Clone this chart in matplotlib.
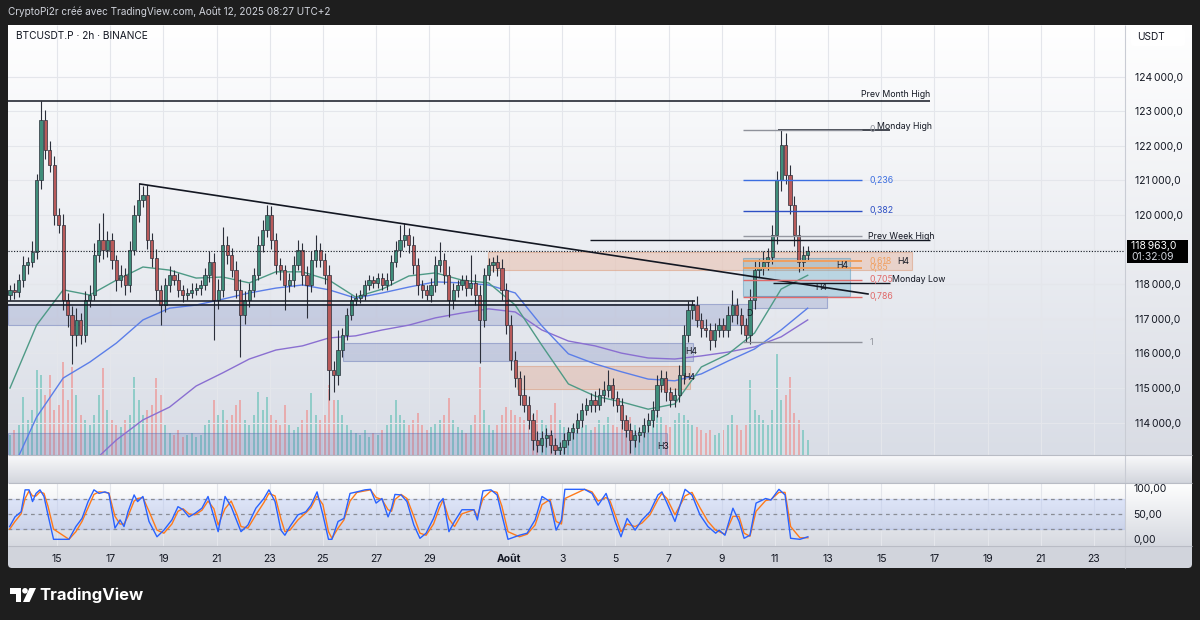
import numpy as np
import matplotlib
matplotlib.use("Agg")
import matplotlib.pyplot as plt
from matplotlib.patches import Rectangle, FancyBboxPatch, Polygon, Circle
from matplotlib.colors import LinearSegmentedColormap

plt.rcParams['font.family'] = ['Inter', 'DejaVu Sans']

# ---------------- DATA ----------------
candle_start_day = 13.232          # day-of-July of first 4h candle (Aug 1 = 32)
bar_len = 4 / 24.0
first_open = 117700
closes = [
    117840, 117780, 118120, 118560, 118650, 118940, 121000, 122750, 121880, 121450,
    120000, 119720, 117550, 117110, 116530, 116970, 116530, 117550, 117690, 118850,
    119280, 118990, 119280, 118700, 118120, 118270, 117980, 118990, 120000, 120440,
    120580, 119280, 118760, 117840, 117400, 117980, 118270, 118120, 117840, 117690,
    117750, 117840, 117900, 117980, 118270, 118650, 117550, 117840, 119140, 118850,
    118410, 117840, 117110, 117550, 117840, 118270, 119140, 119570, 120000, 119280,
    118560, 118410, 117980, 118120, 118560, 118990, 118270, 117980, 118700, 118990,
    118700, 118270, 115520, 115380, 116100, 116530, 117110, 117550, 117600, 117690,
    117980, 118120, 118040, 118180, 117980, 118120, 118650, 118990, 119280, 119420,
    119140, 118560, 117980, 117840, 117690, 117980, 118560, 118700, 118270, 117550,
    117840, 117980, 118120, 117900, 118040, 117690, 116970, 118270, 118560, 118650,
    118480, 117840, 116820, 115810, 115290, 114800, 114510, 114080, 113500, 113360,
    113560, 113640, 113360, 113210, 113300, 113500, 113730, 113850, 114080, 114370,
    114510, 114660, 114510, 114800, 114950, 115090, 114720, 114510, 114080, 113790,
    113500, 113640, 113730, 113930, 114080, 114370, 115090, 115290, 114890, 114660,
    114800, 115380, 116530, 117260, 117400, 116970, 116740, 116680, 116390, 116680,
    116820, 116680, 117110, 117400, 117110, 116820, 116530, 117550, 118410, 118470,
    118650, 118790, 119420, 121010, 122030, 121160, 120290, 119420, 118650, 118850,
    118963]
upper_wick = [
    150, 200, 180, 250, 150, 300, 200, 550, 300, 250,
    250, 200, 300, 200, 250, 350, 200, 250, 300, 350,
    490, 770, 250, 200, 150, 300, 200, 250, 300, 480,
    250, 300, 200, 250, 150, 200, 250, 150, 200, 150,
    150, 200, 150, 150, 200, 300, 250, 300, 510, 250,
    200, 250, 300, 250, 200, 200, 250, 300, 290, 250,
    200, 200, 150, 200, 250, 300, 200, 250, 250, 430,
    200, 200, 300, 250, 580, 200, 200, 150, 150, 150,
    150, 150, 120, 150, 150, 200, 200, 250, 430, 350,
    200, 250, 200, 150, 150, 200, 250, 520, 200, 250,
    200, 150, 150, 150, 810, 250, 300, 200, 200, 140,
    200, 250, 200, 300, 250, 200, 580, 250, 200, 250,
    200, 200, 150, 200, 150, 200, 150, 150, 200, 200,
    200, 200, 250, 200, 250, 430, 200, 200, 200, 150,
    200, 150, 150, 200, 200, 250, 300, 230, 200, 150,
    200, 300, 300, 250, 150, 250, 200, 250, 200, 200,
    200, 200, 250, 440, 200, 200, 200, 300, 300, 250,
    300, 250, 300, 250, 430, 350, 300, 250, 300, 250,
    150]
lower_wick = [
    150, 200, 150, 200, 250, 150, 200, 250, 250, 200,
    300, 250, 300, 350, 830, 300, 250, 200, 200, 150,
    200, 250, 200, 250, 300, 200, 300, 200, 150, 200,
    200, 250, 250, 300, 580, 200, 200, 150, 200, 200,
    150, 150, 150, 200, 150, 200, 1160, 250, 200, 250,
    200, 250, 1210, 250, 200, 200, 150, 200, 200, 250,
    250, 300, 720, 200, 200, 150, 300, 950, 200, 200,
    200, 250, 860, 500, 300, 200, 150, 150, 150, 150,
    150, 150, 150, 150, 150, 150, 150, 150, 200, 200,
    250, 250, 300, 250, 140, 200, 200, 200, 250, 490,
    250, 200, 150, 250, 200, 300, 1250, 200, 150, 200,
    250, 300, 250, 300, 250, 300, 200, 250, 300, 200,
    200, 250, 250, 200, 250, 200, 150, 200, 150, 200,
    150, 200, 200, 150, 200, 200, 250, 200, 250, 200,
    380, 200, 200, 150, 200, 200, 200, 200, 250, 200,
    200, 200, 250, 200, 250, 200, 250, 200, 300, 200,
    200, 200, 200, 200, 250, 250, 200, 250, 250, 200,
    200, 250, 200, 250, 300, 250, 250, 300, 300, 250,
    150]
volume = [
    20, 25, 30, 58, 35, 45, 85, 80, 60, 80,
    45, 50, 93, 55, 88, 60, 40, 35, 30, 40,
    60, 87, 45, 35, 30, 28, 35, 40, 78, 55,
    40, 45, 50, 77, 60, 30, 22, 20, 25, 18,
    20, 22, 18, 20, 30, 35, 55, 40, 45, 35,
    40, 50, 55, 35, 30, 40, 63, 45, 58, 40,
    35, 30, 50, 30, 25, 28, 35, 45, 62, 40,
    35, 40, 70, 55, 55, 40, 30, 25, 22, 20,
    25, 18, 22, 20, 25, 30, 40, 55, 40, 35,
    30, 35, 42, 30, 25, 28, 32, 35, 40, 57,
    35, 28, 25, 22, 30, 40, 88, 45, 30, 25,
    30, 40, 48, 45, 40, 38, 35, 30, 40, 45,
    35, 30, 40, 52, 35, 28, 25, 30, 25, 28,
    30, 25, 28, 35, 30, 38, 30, 28, 35, 40,
    38, 30, 25, 28, 30, 35, 40, 38, 30, 28,
    35, 42, 40, 35, 30, 28, 25, 22, 25, 20,
    22, 25, 30, 40, 30, 25, 30, 75, 45, 40,
    35, 30, 45, 102, 55, 60, 78, 42, 35, 25,
    15]

# moving averages sampled once a day (day = candle_start_day + k)
ma_fast = [115000, 116820, 117840, 117690, 118120, 118500, 118410, 118180, 118210, 118040,
           118360, 118360, 118120, 117630, 117860, 118240, 118330, 118120, 118040, 117400,
           116240, 115120, 114770, 114600, 114390, 114540, 115610, 115980, 116590, 117860,
           118260]
ma_mid = [112490, 114160, 115290, 115750, 116300, 116970, 117310, 117400, 117570, 117750,
          117890, 117980, 117840, 117600, 117750, 117920, 118070, 118040, 117980, 117750,
          116800, 115990, 115700, 115470, 115260, 115210, 115410, 115780, 116130, 116680,
          117310]
ma_slow = [111190, 111710, 112200, 112780, 113500, 114080, 114450, 115060, 115440, 115840,
           116100, 116220, 116450, 116510, 116680, 116820, 117030, 117170, 117290, 117200,
           116680, 116360, 116220, 116010, 115870, 115840, 115930, 116040, 116190, 116480,
           116970]

stoch_days = [13.22, 13.42, 13.65, 13.80, 13.95, 14.08, 14.21, 14.36, 14.51, 14.66,
              14.87, 15.45, 15.71, 15.94, 16.17, 16.39, 16.58, 16.80, 16.95, 17.18,
              17.37, 17.52, 17.67, 17.90, 18.03, 18.23, 18.46, 18.76, 19.02, 19.32,
              19.55, 19.74, 19.96, 20.19, 20.45, 20.68, 20.90, 21.06, 21.32, 21.55,
              21.77, 21.92, 22.18, 22.48, 22.78, 22.97, 23.20, 23.42, 23.57, 23.76,
              24.06, 24.36, 24.55, 24.78, 25.00, 25.21, 25.34, 25.57, 25.79, 26.02,
              26.28, 26.58, 26.79, 27.00, 27.22, 27.45, 27.58, 27.71, 27.94, 28.16,
              28.42, 28.65, 28.88, 29.16, 29.37, 29.52, 29.74, 29.95, 30.23, 30.68,
              30.81, 31.02, 31.32, 31.55, 31.73, 31.96, 32.39, 32.68, 32.98, 33.24,
              33.54, 33.77, 33.97, 34.10, 34.84, 35.12, 35.35, 35.65, 35.80, 35.99,
              36.21, 36.44, 36.74, 37.00, 37.30, 37.60, 37.75, 37.94, 38.24, 38.62,
              38.88, 39.18, 39.48, 39.77, 39.90, 40.12, 40.42, 40.65, 40.84, 41.06,
              41.29, 41.65, 41.85, 42.15, 42.38, 42.59, 42.94, 43.24]
stoch_k = [25, 44, 54, 97, 97, 74, 90, 97, 84, 48,
           0, 0, 25, 41, 74, 97, 90, 93, 90, 22,
           38, 25, 54, 87, 74, 84, 35, 5, 18, 38,
           64, 58, 44, 51, 61, 84, 44, 15, 84, 64,
           35, 15, 28, 61, 80, 97, 74, 18, 8, 25,
           48, 54, 67, 93, 48, 0, 0, 35, 41, 90,
           93, 97, 98, 71, 80, 44, 61, 88, 87, 74,
           28, 2, 12, 41, 71, 80, 15, 35, 58, 58,
           38, 95, 97, 87, 48, 0, 8, 12, 38, 84,
           74, 18, 38, 98, 98, 90, 67, 90, 67, 35,
           5, 41, 18, 38, 54, 87, 93, 71, 35, 98,
           87, 48, 25, 12, 18, 8, 61, 35, 2, 8,
           71, 80, 77, 98, 87, 2, 0, 5]
stoch_d = [20, 35, 50, 80, 95, 85, 85, 93, 90, 65,
           20, 0, 15, 35, 62, 88, 93, 92, 91, 45,
           30, 30, 45, 75, 80, 82, 55, 18, 12, 30,
           55, 60, 50, 48, 57, 75, 60, 28, 60, 75,
           48, 25, 22, 48, 72, 90, 85, 40, 15, 18,
           38, 52, 62, 85, 68, 15, 2, 22, 38, 75,
           92, 95, 97, 82, 78, 58, 55, 78, 88, 80,
           45, 12, 8, 30, 60, 77, 40, 25, 50, 58,
           45, 80, 95, 92, 65, 15, 5, 10, 28, 68,
           78, 35, 30, 80, 98, 93, 75, 82, 75, 48,
           15, 30, 25, 32, 48, 78, 90, 80, 48, 85,
           92, 62, 35, 18, 15, 10, 45, 45, 12, 6,
           55, 76, 78, 92, 92, 25, 3, 3]

date_tick_days = [15, 17, 19, 21, 23, 25, 27, 29, 32, 34, 36, 38, 40, 42, 44, 46, 48, 50, 52, 54]
date_tick_labels = ['15', '17', '19', '21', '23', '25', '27', '29', 'Août', '3', '5', '7',
                    '9', '11', '13', '15', '17', '19', '21', '23']
price_ticks = [114000, 115000, 116000, 117000, 118000, 120000, 121000, 122000, 123000, 124000]
price_grid = [114000, 115000, 116000, 117000, 118000, 119000, 120000, 121000, 122000, 123000, 124000]

current_price = 118963
countdown = "01:32:09"

# drawings
prev_month_high = 123300
prev_month_span = (13.157, 47.83)
monday_high = 122460
monday_high_span = (42.12, 46.33)
prev_week_high = 119280
prev_week_span = (35.05, 47.83)
monday_low = 118030
monday_low_span = (41.93, 46.33)
support_levels = [117520, 117400]
support_span = (13.157, 38.99)
fib_high, fib_low = 122460, 116330
fib_span = (40.80, 45.27)
fib_ratios = [0, 0.236, 0.382, 0.5, 0.618, 0.65, 0.705, 0.786, 1]
fib_colors = ['#8f929b', '#3b6ee0', '#2d4fc4', '#9598a1', '#f0a060', '#f0a060',
              '#e06a6a', '#e06a6a', '#8f929b']
fib_texts = ['0', '0,236', '0,382', '0,5', '0,618', '0,65', '0,705', '0,786', '1']
trend_days = [18.12, 45.50]
trend_prices = [120899, 117720]
blue_zones = [(13.157, 41.06, 116820, 117430), (41.14, 43.96, 117320, 117670),
              (25.76, 38.92, 115780, 116300), (13.157, 37.94, 113066, 113700)]
orange_zones = [(31.21, 47.16, 118410, 118930), (32.30, 38.81, 114970, 115640)]
teal_zones = [(40.80, 44.82, 117660, 118760)]
tag_labels = [(46.59, 118670, 'H4'), (44.29, 118550, 'H4'), (43.51, 117920, 'H4'),
              (40.91, 117170, 'D'), (38.54, 115320, 'H4'), (38.62, 116070, 'H4'),
              (37.56, 113300, 'H3')]

# ---------------- FIGURE ----------------
W, H = 1200, 620
fig = plt.figure(figsize=(12, 6.2), dpi=100)
fig.patch.set_facecolor('#1e1e1e')


def rect(x0, y0, x1, y1):
    return [x0 / W, 1 - y1 / H, (x1 - x0) / W, (y1 - y0) / H]


def vgrad(ax, top, bottom):
    g = np.linspace(0, 1, 256)[:, None]
    cmap = LinearSegmentedColormap.from_list('g', [top, bottom])
    ax.imshow(g, cmap=cmap, extent=[0, 1, 0, 1], transform=ax.transAxes,
              aspect='auto', zorder=0, interpolation='bilinear')


def clean(ax):
    for s in ax.spines.values():
        s.set_visible(False)
    ax.set_xticks([])
    ax.set_yticks([])


# background axes in pixel coordinates
ax_bg = fig.add_axes([0, 0, 1, 1], zorder=-10)
ax_bg.set_xlim(0, W)
ax_bg.set_ylim(H, 0)
ax_bg.axis('off')
ax_bg.add_patch(FancyBboxPatch((8, 25), 1184, 543, boxstyle='round,pad=0,rounding_size=4',
                               facecolor='#d1d4dc', edgecolor='none'))

XL = (13.157, 55.165)
YL = (113066, 125494)
SL = (-13.1, 110.4)

# price column & gap & stoch column backgrounds
ax_pcol = fig.add_axes(rect(1125, 25, 1192, 455), zorder=0)
vgrad(ax_pcol, '#ffffff', '#d9dce4'); clean(ax_pcol)
ax_gap = fig.add_axes(rect(8, 455, 1192, 482), zorder=0)
vgrad(ax_gap, '#fbfbfc', '#d4d7de'); clean(ax_gap)
ax_scol = fig.add_axes(rect(1125, 483, 1192, 546), zorder=0)
vgrad(ax_scol, '#ffffff', '#d6d9e0'); clean(ax_scol)

# back axes: gradient, grid, volume
ax_back = fig.add_axes(rect(8, 25, 1125, 455), zorder=1)
vgrad(ax_back, '#ffffff', '#d9dde6')
ax_back.vlines(date_tick_days, 0, 430, color='#e4e6eb', lw=0.8, zorder=0.5)
ax_back.set_xlim(*XL)
ax_back.set_ylim(0, 430)
clean(ax_back)

n = len(closes)
days = candle_start_day + np.arange(n) * bar_len
c = np.array(closes, float)
o = np.r_[first_open, c[:-1]]
hi = np.maximum(o, c) + np.array(upper_wick[:n])
lo = np.minimum(o, c) - np.array(lower_wick[:n])
up = c >= o
vol = np.array(volume[:n], float)
vcol = np.where(up, '#5fbfb4', '#f08a88')
ax_back.bar(days, vol, width=bar_len * 0.45, color=vcol, alpha=0.6, zorder=1)

# main axes
ax = fig.add_axes(rect(8, 25, 1125, 455), zorder=2)
ax.patch.set_visible(False)
for s in ax.spines.values():
    s.set_visible(False)
ax.set_xlim(*XL)
ax.set_ylim(*YL)
for p in price_grid:
    ax.axhline(p, color='#e4e6eb', lw=0.8, zorder=0.5)

# zones
for d0, d1, p0, p1 in blue_zones:
    ax.add_patch(Rectangle((d0, p0), d1 - d0, p1 - p0, facecolor=(0.36, 0.43, 0.70, 0.22),
                           edgecolor=(0.36, 0.43, 0.70, 0.45), lw=0.8, zorder=2))
for d0, d1, p0, p1 in orange_zones:
    ax.add_patch(Rectangle((d0, p0), d1 - d0, p1 - p0, facecolor=(0.91, 0.60, 0.45, 0.30),
                           edgecolor=(0.85, 0.55, 0.40, 0.45), lw=0.8, zorder=2))
for d0, d1, p0, p1 in teal_zones:
    ax.add_patch(Rectangle((d0, p0), d1 - d0, p1 - p0, facecolor=(0.35, 0.66, 0.78, 0.32),
                           edgecolor=(0.35, 0.60, 0.75, 0.5), lw=0.8, zorder=2))

# moving averages
ma_days = candle_start_day + np.arange(len(ma_fast))
ax.plot(ma_days, ma_slow, color='#8a6fd1', lw=1.0, zorder=3)
ax.plot(ma_days, ma_mid, color='#5b7ee8', lw=1.0, zorder=3)
ax.plot(ma_days, ma_fast, color='#4e9a86', lw=1.0, zorder=3)

# candles
ax.vlines(days, lo, hi, color='#2b2f3a', lw=0.8, zorder=4)
body_lo = np.minimum(o, c)
body_h = np.maximum(np.abs(c - o), 25)
ax.bar(days, body_h, bottom=body_lo, width=bar_len * 0.72,
       color=np.where(up, '#3f8d7a', '#b85a5a'), edgecolor='#2b2f3a', lw=0.5, zorder=5)

# horizontal drawings
ax.hlines(prev_month_high, *prev_month_span, color='#131722', lw=1.1, zorder=6)
ax.hlines(monday_high, *monday_high_span, color='#131722', lw=1.1, zorder=6)
ax.hlines(prev_week_high, *prev_week_span, color='#131722', lw=1.0, zorder=6)
ax.hlines(monday_low, *monday_low_span, color='#131722', lw=1.0, zorder=6)
for p in support_levels:
    ax.hlines(p, *support_span, color='#131722', lw=1.1, zorder=6)
ax.plot(trend_days, trend_prices, color='#131722', lw=1.2, zorder=6)
ax.axhline(current_price, color='#131722', lw=0.8, ls=(0, (1, 1.5)), zorder=6)

# fib
fib_prices = [fib_high - r * (fib_high - fib_low) for r in fib_ratios]
for fp, fc, ft, r in zip(fib_prices, fib_colors, fib_texts, fib_ratios):
    lw = 1.4 if r in (0.618, 0.65) else 1.0
    ax.hlines(fp, *fib_span, color=fc, lw=lw, zorder=6)
    if r != 0.5:
        ax.text(fib_span[1] + 0.3, fp, ft, color=fc, fontsize=6.3, va='center', ha='left', zorder=7)

lab_kw = dict(fontsize=6.3, color='#131722', va='center', ha='left', zorder=8)
ax.text(prev_month_span[1], prev_month_high + 60, 'Prev Month High', fontsize=6.3,
        color='#131722', va='bottom', ha='right', zorder=8)
ax.text(45.82, monday_high + 90, 'Monday High', **lab_kw)
ax.text(45.50, prev_week_high + 110, 'Prev Week High', **lab_kw)
ax.text(46.42, monday_low + 120, 'Monday Low', **lab_kw)
for d, p, t in tag_labels:
    ax.text(d, p, t, **lab_kw)

# price axis labels
ax.yaxis.tick_right()
ax.set_yticks(price_ticks)
ax.set_yticklabels([f"{v // 1000}\u2009{v % 1000:03d},0" for v in price_ticks])
ax.tick_params(axis='y', length=0, pad=7, labelsize=7.5, labelcolor='#131722')
ax.set_xticks([])

# stoch panel
axs = fig.add_axes(rect(8, 483, 1125, 546), zorder=2)
vgrad(axs, '#ffffff', '#d6d9e0')
for s in axs.spines.values():
    s.set_visible(False)
axs.set_xlim(*XL)
axs.set_ylim(*SL)
axs.vlines(date_tick_days, SL[0], SL[1], color='#e4e6eb', lw=0.8, zorder=0.5)
axs.axhspan(20, 80, color='#2962ff', alpha=0.11, zorder=1)
for lv in (80, 50, 20):
    axs.axhline(lv, color='#8a8d96', lw=0.9, ls=(0, (3, 3)), zorder=2)
axs.plot(stoch_days, stoch_d, color='#ff7a1a', lw=1.0, zorder=3)
axs.plot(stoch_days, stoch_k, color='#2962ff', lw=1.0, zorder=4)
axs.yaxis.tick_right()
axs.set_yticks([100, 50, 0])
axs.set_yticklabels(['100,00', '50,00', '0,00'])
axs.tick_params(axis='y', length=0, pad=6, labelsize=7.5, labelcolor='#131722')
axs.set_xticks(date_tick_days)
axs.set_xticklabels(date_tick_labels)
axs.tick_params(axis='x', length=0, pad=5.5, labelsize=7.5, labelcolor='#131722')
for lbl in axs.get_xticklabels():
    if lbl.get_text() == 'Août':
        lbl.set_fontweight('bold')

# separators
sep = fig.add_axes([0, 0, 1, 1], zorder=5)
sep.set_xlim(0, W); sep.set_ylim(H, 0); sep.axis('off')
sep.vlines(1125, 25, 568, color='#c9ccd4', lw=0.8)
sep.hlines([455, 482.5, 546], 8, 1192, color='#b9bcc5', lw=0.8)

# USDT label
sep.add_patch(FancyBboxPatch((1131, 28), 54, 18, boxstyle='round,pad=0,rounding_size=3',
                             facecolor='#ffffff', edgecolor='none'))
sep.text(1137, 37.5, 'USDT', fontsize=7.3, color='#131722', va='center', ha='left')

# current price box
fig.canvas.draw()
_, yd = ax.transData.transform((XL[0], current_price))
yc = H - yd
sep.add_patch(Rectangle((1127, yc - 11), 61, 23, facecolor='#000000', edgecolor='none'))
cp = f"{current_price // 1000}\u2009{current_price % 1000:03d},0"
sep.text(1131, yc - 5, cp, fontsize=7.5, color='#ffffff', va='center', ha='left')
sep.text(1131, yc + 6, countdown, fontsize=7.5, color='#d1d4dc', va='center', ha='left')

# header texts
sep.text(8, 12, 'CryptoPi2r créé avec TradingView.com, Août 12, 2025 08:27 UTC+2',
         fontsize=7.2, color='#d1d4dc', va='center', ha='left')
sep.text(16, 36, 'BTCUSDT.P · 2h · BINANCE', fontsize=7.3, color='#131722',
         va='center', ha='left')

# TradingView logo
sep.add_patch(Polygon([(10, 588), (21, 588), (21, 602), (15.5, 602), (15.5, 593.5), (10, 593.5)],
                      closed=True, facecolor='#ffffff', edgecolor='none'))
sep.add_patch(Circle((25, 590.8), 2.8, facecolor='#ffffff', edgecolor='none'))
sep.add_patch(Polygon([(29.5, 588), (36, 588), (29.5, 602), (23, 602)],
                      closed=True, facecolor='#ffffff', edgecolor='none'))
sep.text(39, 595.5, 'TradingView', fontsize=12, fontweight='bold', color='#ffffff',
         va='center', ha='left')

fig.savefig('out.png', dpi=100, facecolor=fig.get_facecolor())
